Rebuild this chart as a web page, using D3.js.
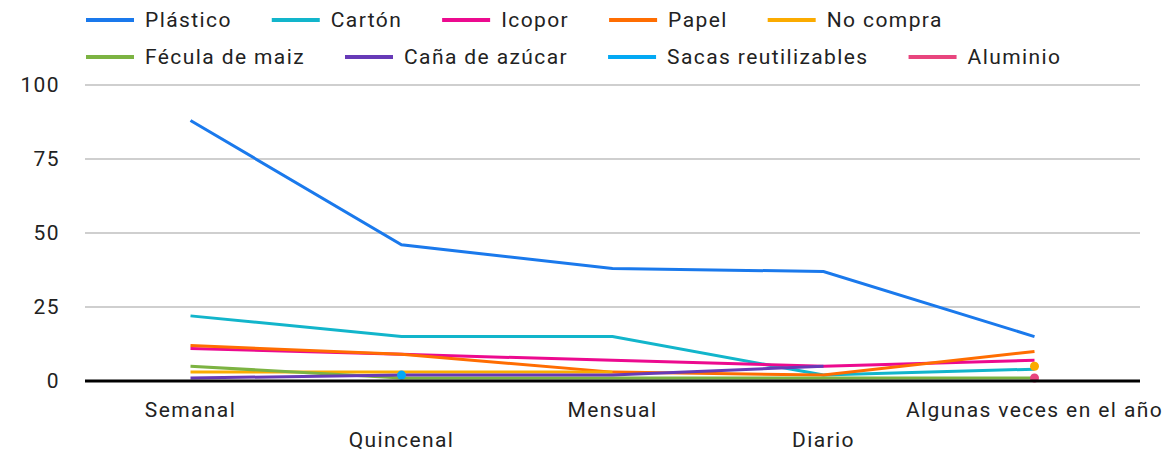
<!DOCTYPE html>
<html>
<head>
<meta charset="utf-8">
<script src="https://cdn.jsdelivr.net/npm/d3@7"></script>
<style>
  body { margin: 0; background: #fff; }
  text { font-family: Roboto, sans-serif; fill: #222; font-size: 21px; letter-spacing: 1.4px; }
</style>
</head>
<body>
<script>
const width = 1165;
const height = 455;

// categories on the x axis
const categories = ["Semanal", "Quincenal", "Mensual", "Diario", "Algunas veces en el año"];
const yTicks = [0, 25, 50, 75, 100];

// one array per series (null = no value)
const plastico = [88, 46, 38, 37, 15];
const carton = [22, 15, 15, 2, 4];
const icopor = [11, 9, 7, 5, 7];
const papel = [12, 9, 3, 2, 10];
const noCompra = [3, 3, 3, null, 5];
const fecula = [5, 1, 1, 1, 1];
const cana = [1, 2, 2, 5, null];
const sacas = [null, 2, null, null, null];
const aluminio = [null, null, null, null, 1];

const seriesNames = ["Plástico", "Cartón", "Icopor", "Papel", "No compra",
    "Fécula de maiz", "Caña de azúcar", "Sacas reutilizables", "Aluminio"];
const seriesColors = ["#1a79ec", "#12b5cb", "#ec0a8f", "#ff6d01", "#fbab00",
    "#7cb342", "#673ab7", "#03a9f4", "#e8457e"];
const seriesValues = [plastico, carton, icopor, papel, noCompra, fecula, cana, sacas, aluminio];

const series = seriesNames.map((name, i) => ({ name: name, color: seriesColors[i], values: seriesValues[i] }));

const margin = { top: 85, right: 25, bottom: 74, left: 85 };

const svg = d3.select('body')
    .append('svg')
    .attr('width', width)
    .attr('height', height);

const x = d3.scalePoint()
    .domain(categories)
    .range([margin.left, width - margin.right])
    .padding(0.5);

const y = d3.scaleLinear()
    .domain([0, 100])
    .range([height - margin.bottom, margin.top]);

// gridlines
svg.append('g')
    .selectAll('line')
    .data(yTicks.filter(d => d > 0))
    .enter()
    .append('line')
    .attr('x1', margin.left)
    .attr('x2', width - margin.right)
    .attr('y1', d => y(d))
    .attr('y2', d => y(d))
    .attr('stroke', '#cfcfcf')
    .attr('stroke-width', 2);

// y labels
svg.append('g')
    .selectAll('text')
    .data(yTicks)
    .enter()
    .append('text')
    .attr('x', 60)
    .attr('y', d => y(d))
    .attr('dy', '0.35em')
    .attr('text-anchor', 'end')
    .text(d => d);

// x labels, staggered
svg.append('g')
    .selectAll('text')
    .data(categories)
    .enter()
    .append('text')
    .attr('x', d => x(d))
    .attr('y', (d, i) => i % 2 === 0 ? 417 : 447)
    .attr('text-anchor', 'middle')
    .text(d => d);

const line = d3.line()
    .defined(d => d.v !== null)
    .x(d => x(d.c))
    .y(d => y(d.v));

const lineGroup = svg.append('g');
series.forEach(s => {
    const pts = s.values.map((v, i) => ({ c: categories[i], v: v }));
    lineGroup.append('path')
        .datum(pts)
        .attr('d', line)
        .attr('fill', 'none')
        .attr('stroke', s.color)
        .attr('stroke-width', 3);
    // isolated points get a dot
    lineGroup.selectAll(null)
        .data(pts.filter((d, i) => d.v !== null
            && (i === 0 || s.values[i - 1] === null)
            && (i === s.values.length - 1 || s.values[i + 1] === null)))
        .enter()
        .append('circle')
        .attr('cx', d => x(d.c))
        .attr('cy', d => y(d.v))
        .attr('r', 4.5)
        .attr('fill', s.color);
});

// baseline
svg.append('line')
    .attr('x1', margin.left)
    .attr('x2', width - margin.right)
    .attr('y1', y(0))
    .attr('y2', y(0))
    .attr('stroke', '#000')
    .attr('stroke-width', 3);

// legend in two rows
const legendRows = [[0, 1, 2, 3, 4], [5, 6, 7, 8]];
const legendY = [20, 57];
legendRows.forEach((row, r) => {
    let cx = 86;
    row.forEach(i => {
        const g = svg.append('g').attr('transform', 'translate(' + cx + ',' + legendY[r] + ')');
        g.append('line')
            .attr('x1', 0).attr('x2', 48)
            .attr('stroke', series[i].color)
            .attr('stroke-width', 4);
        const t = g.append('text')
            .attr('x', 59)
            .attr('dy', '0.35em')
            .text(series[i].name);
        cx += 59 + t.node().getComputedTextLength() + 40;
    });
});
</script>
</body>
</html>
